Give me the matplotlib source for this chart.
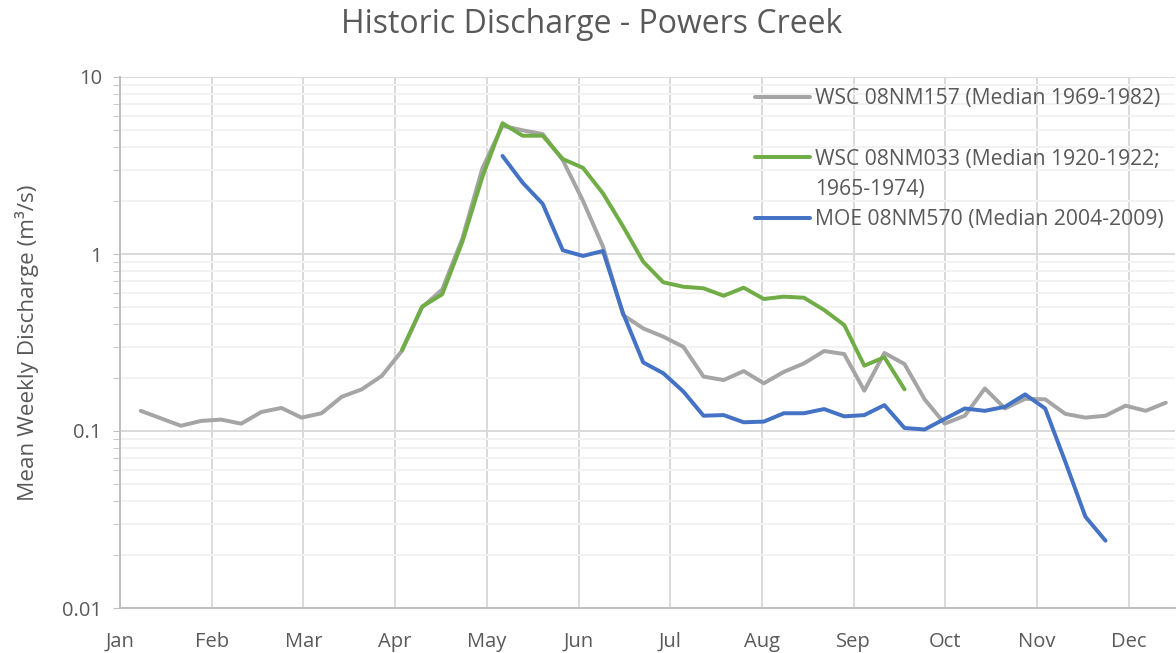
import numpy as np
import matplotlib
matplotlib.use("Agg")
import matplotlib.pyplot as plt
from matplotlib.lines import Line2D
from matplotlib.ticker import LogLocator, FixedLocator, NullFormatter

months = ["Jan", "Feb", "Mar", "Apr", "May", "Jun", "Jul", "Aug", "Sep", "Oct", "Nov", "Dec"]

gray_start = 0
gray_vals = [0.130, 0.118, 0.107, 0.114, 0.116, 0.110, 0.128, 0.135, 0.119, 0.126,
             0.156, 0.172, 0.205, 0.284, 0.50, 0.63, 1.22, 3.05, 5.3, 5.0,
             4.76, 3.39, 2.0, 1.10, 0.452, 0.38, 0.341, 0.299, 0.203, 0.194,
             0.218, 0.186, 0.216, 0.241, 0.283, 0.272, 0.169, 0.276, 0.239, 0.151,
             0.110, 0.122, 0.174, 0.134, 0.152, 0.151, 0.125, 0.119, 0.122, 0.139,
             0.130, 0.1445]

green_start = 13
green_vals = [0.287, 0.504, 0.592, 1.17, 2.73, 5.48, 4.66, 4.66, 3.44, 3.07,
              2.20, 1.43, 0.905, 0.692, 0.653, 0.64, 0.581, 0.645, 0.557, 0.574,
              0.566, 0.483, 0.397, 0.234, 0.261, 0.172]

blue_start = 18
blue_vals = [3.58, 2.53, 1.92, 1.05, 0.975, 1.04, 0.462, 0.244, 0.212, 0.167,
             0.122, 0.123, 0.112, 0.113, 0.126, 0.126, 0.133, 0.121, 0.123, 0.140,
             0.104, 0.102, 0.117, 0.134, 0.130, 0.137, 0.161, 0.134, 0.067, 0.0328,
             0.024]

labels = ["WSC 08NM157 (Median 1969-1982)",
          "WSC 08NM033 (Median 1920-1922;",
          "MOE 08NM570 (Median 2004-2009)"]
label_cont = "1965-1974)"
colors = ["#A5A5A5", "#70AD47", "#4472C4"]

plt.rcParams['font.family'] = ['Open Sans', 'DejaVu Sans']
txt = "#595959"

fig = plt.figure(figsize=(11.76, 6.53), dpi=100)
ax = fig.add_axes([120/1176, 1-608/653, 1055/1176, (608-77)/653])

# layout: week spacing 20.1 px, month spacing 91.7 px
wk_px = 20.1
mo_px = 91.7
off_px = 20.7  # first week offset from Jan gridline
month_pos = (np.arange(12) * mo_px - off_px) / wk_px

series = [(gray_start, gray_vals), (green_start, green_vals), (blue_start, blue_vals)]
handles = []
for (s, v), c, lab in zip(series, colors, labels):
    x = np.arange(s, s + len(v))
    h, = ax.plot(x, v, color=c, lw=2.85, label=lab, solid_capstyle='round', solid_joinstyle='round')
    handles.append(h)

ax.set_yscale('log')
ax.set_ylim(0.01, 10)
ax.set_xlim(-off_px / wk_px, (1055 - off_px) / wk_px)

ax.yaxis.set_minor_locator(LogLocator(base=10, subs=np.arange(2, 10), numticks=20))
ax.yaxis.set_minor_formatter(NullFormatter())
ax.set_yticks([0.01, 0.1, 1, 10])
ax.set_yticklabels(["0.01", "0.1", "1", "10"])

ax.xaxis.set_major_locator(FixedLocator(month_pos))
ax.set_xticklabels(months)

ax.grid(True, which='major', axis='both', color='#D9D9D9', lw=1.4)
ax.grid(True, which='minor', axis='y', color='#F2F2F2', lw=1.4)
ax.set_axisbelow(True)

for sp in ['top', 'right']:
    ax.spines[sp].set_visible(False)
for sp in ['left', 'bottom']:
    ax.spines[sp].set_color('#BFBFBF')
    ax.spines[sp].set_linewidth(1.4)

ax.tick_params(axis='y', which='both', direction='out', length=5, color='#BFBFBF',
               labelsize=14.5, labelcolor=txt, pad=8)
ax.tick_params(axis='x', which='both', length=0, labelsize=14.5, labelcolor=txt, pad=17)

ax.set_ylabel("Mean Weekly Discharge (m³/s)", fontsize=16.2, color=txt)
ax.yaxis.set_label_coords(-0.077, 0.5)
fig.suptitle("Historic Discharge - Powers Creek", fontsize=23, color=txt, y=0.987, x=0.503)

blank = Line2D([], [], color='none')
leg_handles = [handles[0], blank, handles[1], blank, handles[2]]
leg_labels = [labels[0], " ", labels[1], label_cont, labels[2]]
leg = ax.legend(leg_handles, leg_labels, loc='upper left',
                bbox_to_anchor=((755 - 120) / 1055, 1 - (88 - 77) / 531),
                frameon=False, fontsize=15.2, handlelength=2.6, handletextpad=0.25,
                labelspacing=0.44, borderpad=0, borderaxespad=0)
for t in leg.get_texts():
    t.set_color(txt)

fig.savefig("out.png", dpi=100)
